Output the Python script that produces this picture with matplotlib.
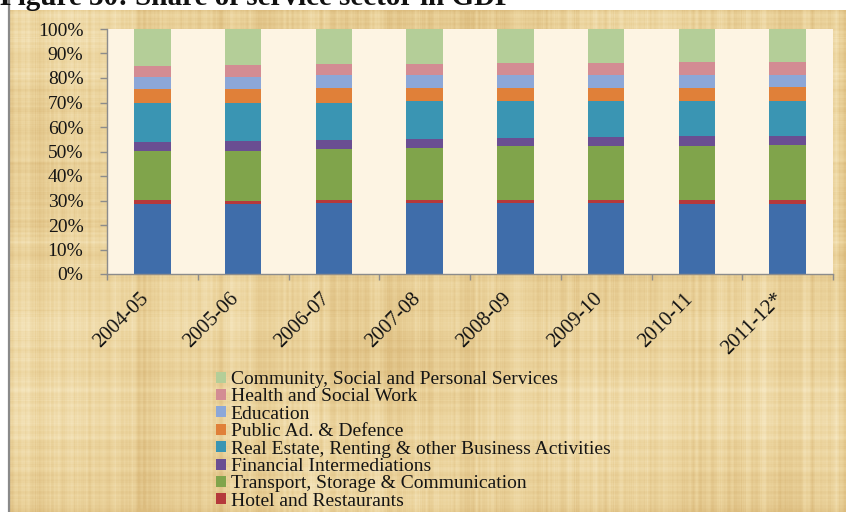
import numpy as np
import matplotlib
matplotlib.use("Agg")
import matplotlib.pyplot as plt
from matplotlib.patches import Rectangle, Patch

# ---- data: share of each service sub-sector in services GDP (%) ----
years = ["2004-05", "2005-06", "2006-07", "2007-08",
         "2008-09", "2009-10", "2010-11", "2011-12*"]

trade          = [28.7, 28.7, 29.0, 29.0, 29.0, 29.0, 28.7, 28.7]
hotels         = [1.35, 1.2, 1.2, 1.2, 1.2, 1.2, 1.6, 1.6]
transport      = [20.25, 20.4, 21.0, 21.4, 22.0, 22.0, 21.9, 22.4]
financial      = [3.4, 3.9, 3.4, 3.5, 3.3, 3.8, 4.2, 3.7]
real_estate    = [16.2, 15.7, 15.3, 15.4, 15.0, 14.5, 14.1, 14.1]
public_admin   = [5.6, 5.6, 6.1, 5.5, 5.5, 5.5, 5.5, 5.9]
education      = [4.8, 5.1, 5.1, 5.1, 5.1, 5.1, 5.4, 5.0]
health         = [4.8, 4.8, 4.7, 4.7, 5.1, 5.1, 5.2, 5.2]
community      = [14.9, 14.6, 14.2, 14.2, 13.8, 13.8, 13.4, 13.4]

series_names = ["Trade",
                "Hotel and Restaurants",
                "Transport, Storage & Communication",
                "Financial Intermediations",
                "Real Estate, Renting & other Business Activities",
                "Public Ad. & Defence",
                "Education",
                "Health and Social Work",
                "Community, Social and Personal Services"]
series_values = [trade, hotels, transport, financial, real_estate,
                 public_admin, education, health, community]
series_colors = ["#3F6DAA", "#B5393B", "#80A44B", "#6A4E92", "#3A95B3",
                 "#E08039", "#8CA7D8", "#D38C93", "#B4CE98"]

W, H, DPI = 846, 512, 100
SERIF = ["Liberation Serif", "DejaVu Serif"]
plt.rcParams["font.family"] = SERIF

fig = plt.figure(figsize=(W / DPI, H / DPI), dpi=DPI, facecolor="white")


def fibres(n, seed, width):
    """Deterministic 1-D fibre pattern (hash noise, lightly smoothed)."""
    i = np.arange(n, dtype=float)
    v = np.sin(i * 12.9898 + seed * 78.233) * 43758.5453
    v = v - np.floor(v)
    k = np.ones(width) / width
    v = np.convolve(v, k, mode="same")
    return (v - v.mean()) / (v.std() + 1e-9)


# ---- parchment panel ----
px0, py0 = 9, 10  # panel origin (pixels from left / top)
pw, ph = W - px0, H - py0
xx = np.arange(pw)[None, :].astype(float)
yy = np.arange(ph)[:, None].astype(float)
col_f = fibres(pw, 1.0, 3)[None, :] * 0.55 + fibres(pw, 2.0, 9)[None, :] * 0.45
row_f = fibres(ph, 3.0, 3)[:, None] * 0.55 + fibres(ph, 4.0, 11)[:, None] * 0.45
blotch = (np.sin(0.011 * xx + 0.7) * np.sin(0.017 * yy + 1.9)
          + 0.6 * np.sin(0.023 * xx - 0.013 * yy + 0.4)
          + 0.5 * np.sin(0.006 * xx + 0.019 * yy + 2.2))
weave = 0.30 * col_f + 0.22 * row_f + 0.22 * blotch
base = np.array([235, 211, 156]) / 255.0
light = np.array([246, 231, 192]) / 255.0
dark = np.array([220, 188, 126]) / 255.0
t = np.clip(weave, -1, 1)[..., None]
tex = np.where(t > 0, base + (light - base) * t, base + (base - dark) * t)
tex = np.clip(tex, 0, 1)

bg = fig.add_axes([px0 / W, 0, pw / W, ph / H], zorder=0)
bg.imshow(tex, aspect="auto", interpolation="bilinear")
bg.set_axis_off()
fig.patches.append(Rectangle((px0 / W, -0.2), 1.5, 1.2 + ph / H, transform=fig.transFigure,
                             fill=False, edgecolor="#8A8A8A", linewidth=1.6, zorder=1))

# ---- title (runs off the top edge of the page) ----
fig.text(0.0, 1 - 5 / H, "Figure 30: Share of service sector in GDP",
         fontsize=21, fontweight="bold", ha="left", va="baseline", color="#111111")

# ---- stacked bars ----
L, R, T, B = 107, 833, 29, 274
ax = fig.add_axes([L / W, 1 - B / H, (R - L) / W, (B - T) / H], zorder=2)
ax.set_facecolor("#FDF4E3")
x = np.arange(len(years)) + 0.5
bottom = np.zeros(len(years))
handles = []
for name, vals, col in zip(series_names, series_values, series_colors):
    v = np.array(vals, dtype=float)
    ax.bar(x, v, width=0.4, bottom=bottom, color=col, linewidth=0)
    bottom += v
    handles.append(Patch(facecolor=col, edgecolor="none", label=name))

ax.set_xlim(0, len(years))
ax.set_ylim(0, 100)
ax.set_yticks(np.arange(0, 101, 10))
ax.set_yticklabels([f"{v}%" for v in range(0, 101, 10)])
ax.set_xticks(np.arange(0, len(years) + 1))
ax.set_xticklabels([])
ax.set_xticks(x, minor=True)
ax.set_xticklabels(years, minor=True, rotation=45, ha="right", va="top")

for s in ["top", "right"]:
    ax.spines[s].set_visible(False)
for s in ["left", "bottom"]:
    ax.spines[s].set_color("#8C8C8C")
    ax.spines[s].set_linewidth(1.0)

ax.tick_params(axis="y", which="major", direction="out", length=5, width=1,
               color="#8C8C8C", pad=12, labelsize=14, labelcolor="#151515")
ax.tick_params(axis="x", which="major", direction="out", length=4, width=1,
               color="#8C8C8C")
ax.tick_params(axis="x", which="minor", length=0, pad=11, labelsize=15,
               labelcolor="#151515")

# ---- legend (top-down order; the lowest series sits below the page) ----
leg_handles = handles[1:][::-1]
leg = fig.legend(handles=leg_handles, labels=[h.get_label() for h in leg_handles],
                 loc="upper left", bbox_to_anchor=(216 / W, 1 - 371 / H),
                 frameon=False, fontsize=14, handlelength=0.5, handleheight=0.5,
                 handletextpad=0.25, labelspacing=0.02, borderpad=0, borderaxespad=0)
for txt in leg.get_texts():
    txt.set_color("#151515")

fig.savefig("out.png", dpi=DPI, facecolor="white")
